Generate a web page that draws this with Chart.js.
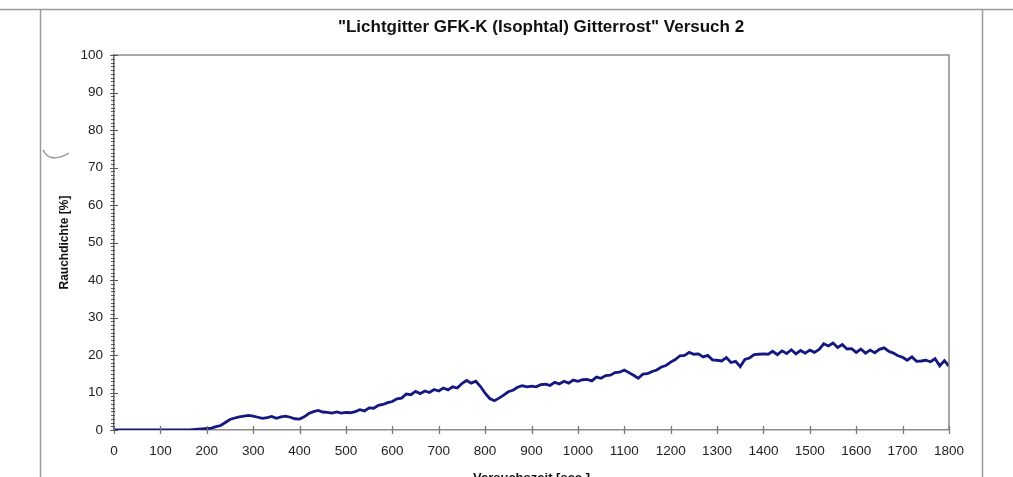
<!DOCTYPE html>
<html>
<head>
<meta charset="utf-8">
<script src="https://cdn.jsdelivr.net/npm/chart.js@4.4.1/dist/chart.umd.min.js"></script>
<style>
  html, body { margin: 0; padding: 0; background: #fff; overflow: hidden; }
  #wrap { position: relative; width: 1013px; height: 486px; }
</style>
</head>
<body>
<div id="wrap"><canvas id="rauch"></canvas></div>
<script>
// Messwerte Rauchdichte [%], alle 10 s von 0 bis 1800 s
const messIntervall = 10;
const rauchdichte = [
  0, 0, 0, 0, 0, 0, 0, 0, 0, 0,                                  // 0-90
  0, 0, 0, 0, 0, 0, 0, 0.1, 0.2, 0.3,                            // 100-190
  0.4, 0.5, 0.9, 1.2, 2.0, 2.8, 3.2, 3.5, 3.7, 3.9,              // 200-290
  3.7, 3.4, 3.1, 3.3, 3.6, 3.1, 3.5, 3.7, 3.4, 3.0,              // 300-390
  2.9, 3.5, 4.4, 4.9, 5.2, 4.8, 4.7, 4.5, 4.8, 4.5,              // 400-490
  4.7, 4.6, 4.9, 5.4, 5.1, 5.9, 5.8, 6.6, 6.8, 7.3,              // 500-590
  7.6, 8.3, 8.5, 9.6, 9.4, 10.3, 9.7, 10.4, 10.0, 10.8,          // 600-690
  10.4, 11.2, 10.7, 11.5, 11.2, 12.4, 13.2, 12.5, 13.0, 11.6,    // 700-790
  9.8, 8.4, 7.8, 8.5, 9.3, 10.2, 10.6, 11.4, 11.8, 11.5,         // 800-890
  11.7, 11.5, 12.1, 12.2, 11.9, 12.7, 12.3, 13.0, 12.5, 13.3,    // 900-990
  13.0, 13.4, 13.5, 13.1, 14.1, 13.8, 14.5, 14.6, 15.3, 15.4,    // 1000-1090
  16.0, 15.3, 14.6, 13.8, 14.9, 15.0, 15.6, 16.0, 16.8, 17.2,    // 1100-1190
  18.1, 18.8, 19.8, 19.9, 20.7, 20.2, 20.3, 19.5, 19.9, 18.7,    // 1200-1290
  18.6, 18.4, 19.3, 18.0, 18.3, 16.9, 18.8, 19.2, 20.1, 20.2,    // 1300-1390
  20.3, 20.2, 21.0, 20.1, 21.1, 20.4, 21.4, 20.3, 21.2, 20.5,    // 1400-1490
  21.3, 20.7, 21.5, 23.0, 22.4, 23.2, 22.0, 22.8, 21.6, 21.7,    // 1500-1590
  20.7, 21.6, 20.5, 21.3, 20.6, 21.5, 21.9, 21.0, 20.5, 19.8,    // 1600-1690
  19.4, 18.6, 19.5, 18.3, 18.4, 18.6, 18.2, 19.0, 17.1, 18.5,    // 1700-1790
  17.0                                                           // 1800
];

const xTicks = [0, 100, 200, 300, 400, 500, 600, 700, 800, 900, 1000,
                1100, 1200, 1300, 1400, 1500, 1600, 1700, 1800];
const yTicks = [0, 10, 20, 30, 40, 50, 60, 70, 80, 90, 100];

const titel = '"Lichtgitter GFK-K (Isophtal) Gitterrost" Versuch 2';
const xTitel = 'Versuchszeit [sec.]';
const yTitel = 'Rauchdichte [%]';

const punkte = rauchdichte.map((v, i) => ({ x: i * messIntervall, y: v }));

const schrift = 'Liberation Sans, Arial, sans-serif';

// Seitenrahmen, Überschrift, Plotrahmen und Teilstriche über der Achse
const rahmenPlugin = {
  id: 'rahmen',
  beforeDraw(chart) {
    const c = chart.ctx;
    c.save();
    c.strokeStyle = '#9a9a9a';
    c.lineWidth = 1.5;
    c.beginPath();
    c.moveTo(0, 9.5); c.lineTo(1013, 9.5);
    c.moveTo(40.5, 9.5); c.lineTo(40.5, 486);
    c.moveTo(982.5, 9.5); c.lineTo(982.5, 486);
    c.stroke();
    // kleiner Bogen am linken Rand
    c.strokeStyle = '#8a8a8a';
    c.lineWidth = 1.3;
    c.beginPath();
    c.moveTo(43, 150);
    c.quadraticCurveTo(50, 164, 69, 153);
    c.stroke();
    // Überschrift
    c.fillStyle = '#111';
    c.font = 'bold 17px ' + schrift;
    c.textAlign = 'center';
    c.textBaseline = 'middle';
    c.fillText(titel, 541, 27);
    c.restore();
  },
  afterDatasetsDraw(chart) {
    const c = chart.ctx;
    const a = chart.chartArea;
    const xs = chart.scales.x, ys = chart.scales.y;
    c.save();
    c.strokeStyle = '#8c8c8c';
    c.lineWidth = 1.5;
    c.beginPath();
    c.moveTo(a.left, a.top); c.lineTo(a.right, a.top); c.lineTo(a.right, a.bottom);
    c.stroke();
    c.strokeStyle = '#777';
    c.lineWidth = 1.3;
    c.beginPath();
    xTicks.forEach(t => {
      const px = Math.round(xs.getPixelForValue(t)) + 0.5;
      c.moveTo(px, a.bottom - 4); c.lineTo(px, a.bottom + 4);
    });
    c.stroke();
    c.strokeStyle = '#555';
    c.lineWidth = 1.2;
    c.beginPath();
    for (let v = 0; v <= 100; v++) {
      const py = Math.round(ys.getPixelForValue(v)) + 0.5;
      const lang = v % 10 === 0;
      c.moveTo(a.left - (lang ? 4 : 3), py); c.lineTo(a.left + (lang ? 4 : 1), py);
    }
    c.stroke();
    c.restore();
  }
};

const ctx = document.getElementById('rauch').getContext('2d');
new Chart(ctx, {
  type: 'line',
  data: {
    datasets: [{
      label: yTitel,
      data: punkte,
      borderColor: '#14197f',
      borderWidth: 2.8,
      pointRadius: 0,
      tension: 0,
      fill: false
    }]
  },
  options: {
    responsive: true,
    maintainAspectRatio: false,
    animation: false,
    layout: { padding: { left: 57, right: 64, top: 55, bottom: 0 } },
    plugins: {
      legend: { display: false },
      tooltip: { enabled: false },
      title: { display: false }
    },
    scales: {
      x: {
        type: 'linear',
        min: 0,
        max: 1800,
        afterBuildTicks: s => { s.ticks = xTicks.map(v => ({ value: v })); },
        afterFit: s => { s.height = 56; },
        grid: { display: false },
        border: { display: true, color: '#8c8c8c', width: 1.5 },
        ticks: {
          color: '#222',
          padding: 5,
          maxRotation: 0,
          callback: v => String(v),
          font: { family: schrift, size: 13.5 }
        },
        title: {
          display: true,
          text: xTitel,
          color: '#111',
          padding: { top: 4, bottom: 0 },
          font: { family: schrift, size: 13, weight: 'bold' }
        }
      },
      y: {
        min: 0,
        max: 100,
        afterBuildTicks: s => { s.ticks = yTicks.map(v => ({ value: v })); },
        afterFit: s => { s.width = 57; },
        grid: { display: false },
        border: { display: true, color: '#666', width: 1.5 },
        ticks: {
          color: '#222',
          padding: 3,
          callback: v => String(v),
          font: { family: schrift, size: 13.5 }
        },
        title: {
          display: true,
          text: yTitel,
          color: '#111',
          padding: { top: 0, bottom: 0 },
          font: { family: schrift, size: 12, weight: 'bold' }
        }
      }
    }
  },
  plugins: [rahmenPlugin]
});
</script>
</body>
</html>
